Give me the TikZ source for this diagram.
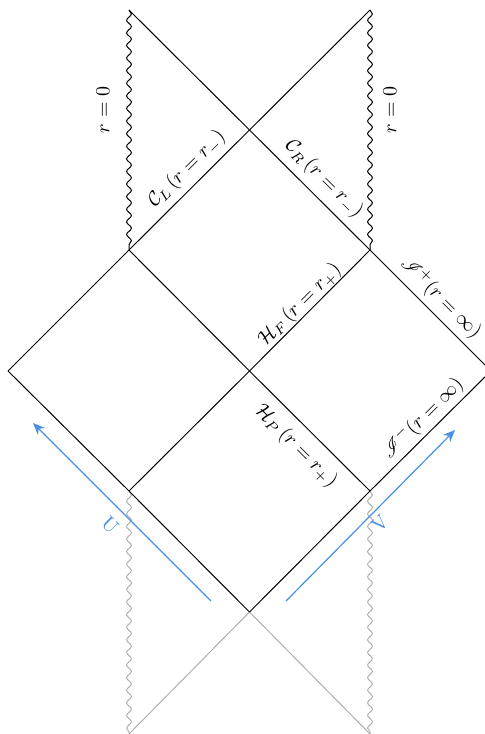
\documentclass[tikz,border=0pt]{standalone}
\usepackage{amsmath,amssymb,mathrsfs}
\usetikzlibrary{decorations.pathmorphing,arrows.meta}
\definecolor{singgray}{RGB}{175,175,175}
\definecolor{arrblue}{RGB}{74,144,226}
\begin{document}
\begin{tikzpicture}[x=0.5pt,y=-0.5pt,
  edge/.style={line width=0.5pt,black},
  faint/.style={line width=0.5pt,singgray},
  wavy/.style={decorate,decoration={snake,segment length=6.3pt,amplitude=1.2pt}},
  lbl/.style={inner sep=1pt},
  arr/.style={arrblue,line width=0.6pt,-{Stealth[length=6pt,width=5pt]}}]
\useasboundingbox (0,0) rectangle (485,734);
\clip (0,0) rectangle (485,734);
\coordinate (TL) at (129,10);
\coordinate (TR) at (370,10);
\coordinate (T) at (249.5,130);
\coordinate (ML) at (129,250);
\coordinate (MR) at (370,250);
\coordinate (L) at (8,371);
\coordinate (C) at (249.5,371);
\coordinate (R) at (491,371);
\coordinate (BL) at (129,491);
\coordinate (BR) at (370,491);
\coordinate (B) at (249.5,612);
\coordinate (BBL) at (129,734);
\coordinate (BBR) at (370,734);
% grey past part
\draw[faint] (B) -- (BBL);
\draw[faint] (B) -- (BBR);
\draw[faint,wavy] (BL) -- (BBL);
\draw[faint,wavy] (BR) -- (BBR);
% singularities
\draw[edge,wavy] (TL) -- (ML);
\draw[edge,wavy] (TR) -- (MR);
% main lines
\draw[edge] (TL) -- (T) -- (MR) -- (R);
\draw[edge] (TR) -- (T) -- (ML) -- (L);
\draw[edge] (L) -- (BL) -- (B);
\draw[edge] (B) -- (BR) -- (R);
\draw[edge] (ML) -- (C) -- (BR);
\draw[edge] (MR) -- (C) -- (BL);
% labels
\node[lbl,rotate=90] (r0L) at (103,110) {$r=0$};
\node[lbl,rotate=90] (r0R) at (390,110) {$r=0$};
\node[lbl,rotate=45] (CL) at (187,169) {$\mathcal{C}_L\,(r=r_-)$};
\node[lbl,rotate=-45] (CR) at (324,179) {$\mathcal{C}_R\,(r=r_-)$};
\node[lbl,rotate=45] (HF) at (300,305) {$\mathcal{H}_F\,(r=r_+)$};
\node[lbl,rotate=-45] (Ip) at (441,298) {$\mathscr{I}^{+}(r=\infty)$};
\node[lbl,rotate=-45] (HP) at (296,446) {$\mathcal{H}_P\,(r=r_+)$};
\node[lbl,rotate=45] (Im) at (423,418) {$\mathscr{I}^{-}(r=\infty)$};
% null coordinate arrows
\coordinate (Ua) at (211,601);
\coordinate (Ub) at (33,423);
\coordinate (Va) at (286,601);
\coordinate (Vb) at (455,430);
\draw[arr] (Ua) -- (Ub);
\draw[arr] (Va) -- (Vb);
\node[lbl,rotate=-45,text=arrblue] (U) at (110,525) {U};
\node[lbl,rotate=45,text=arrblue] (V) at (380,524) {V};
\end{tikzpicture}
\end{document}
